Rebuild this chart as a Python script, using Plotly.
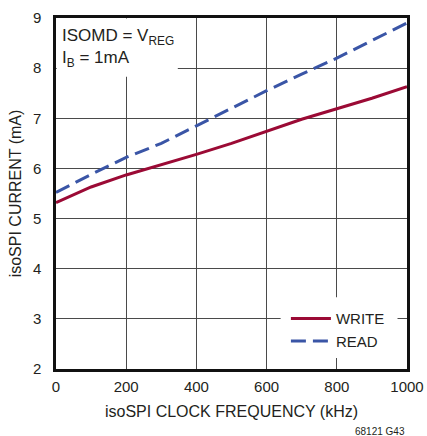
import plotly.graph_objects as go

freq_khz = [0, 100, 200, 300, 400, 500, 600, 700, 800, 900, 1000]
write_ma = [5.32, 5.63, 5.87, 6.07, 6.28, 6.50, 6.74, 6.98, 7.19, 7.40, 7.63]
read_ma = [5.52, 5.88, 6.22, 6.50, 6.85, 7.20, 7.55, 7.88, 8.20, 8.55, 8.90]
x_ticks = [0, 200, 400, 600, 800, 1000]
y_ticks = [2, 3, 4, 5, 6, 7, 8, 9]

FONT = "Liberation Sans Narrow, Arial Narrow, Liberation Sans, Arial, sans-serif"
TXT = "#231f20"

fig = go.Figure()
fig.add_trace(go.Scatter(x=freq_khz, y=write_ma, mode="lines", name="WRITE",
                         line=dict(color="#9b0a35", width=3)))
fig.add_trace(go.Scatter(x=freq_khz, y=read_ma, mode="lines", name="READ",
                         line=dict(color="#3a55a6", width=3, dash="15px,7px")))

# white boxes hiding gridlines behind the note and the legend
fig.add_shape(type="rect", xref="x", yref="y", x0=2, x1=347, y0=7.83, y1=8.99,
              fillcolor="white", line=dict(width=0), layer="between")
fig.add_shape(type="rect", xref="x", yref="y", x0=640, x1=973, y0=2.22, y1=3.43,
              fillcolor="white", line=dict(width=0), layer="between")

fig.add_annotation(xref="paper", yref="paper", x=0.012, y=0.982, xanchor="left", yanchor="top",
                   align="left", showarrow=False,
                   text="ISOMD = V<sub>REG</sub><br>I<sub>B</sub> = 1mA",
                   font=dict(family=FONT, size=17, color=TXT))
fig.add_annotation(xref="paper", yref="paper", x=1.0, y=-0.177, xanchor="right", yanchor="middle",
                   showarrow=False, text="68121 G43",
                   font=dict(family=FONT, size=10, color=TXT))

fig.update_layout(
    width=427, height=436,
    margin=dict(l=56, r=20, t=18, b=67),
    paper_bgcolor="white", plot_bgcolor="white",
    font=dict(family=FONT, size=15, color=TXT),
    showlegend=True,
    legend=dict(x=0.655, y=0.19, xanchor="left", yanchor="top",
                bgcolor="rgba(0,0,0,0)", font=dict(family=FONT, size=15, color=TXT),
                itemwidth=40, tracegroupgap=0),
    xaxis=dict(range=[0, 1000], tickvals=x_ticks, showgrid=True, gridcolor="#4a4a4a", gridwidth=1.3,
               showline=True, linecolor="#111111", linewidth=2.5, mirror=True, zeroline=False,
               ticks="", ticklabelstandoff=2, automargin=False,
               title=dict(text="isoSPI CLOCK FREQUENCY (kHz)", font=dict(family=FONT, size=16, color=TXT), standoff=13)),
    yaxis=dict(range=[2, 9], tickvals=y_ticks, showgrid=True, gridcolor="#4a4a4a", gridwidth=1.3,
               showline=True, linecolor="#111111", linewidth=2.5, mirror=True, zeroline=False,
               ticks="", ticklabelstandoff=9, automargin=False,
               title=dict(text="isoSPI CURRENT (mA)", font=dict(family=FONT, size=16, color=TXT), standoff=8)),
)

fig.write_html("out.html", config={"displayModeBar": False},
               post_script="document.body.style.margin='0px';document.body.style.padding='0px';")
